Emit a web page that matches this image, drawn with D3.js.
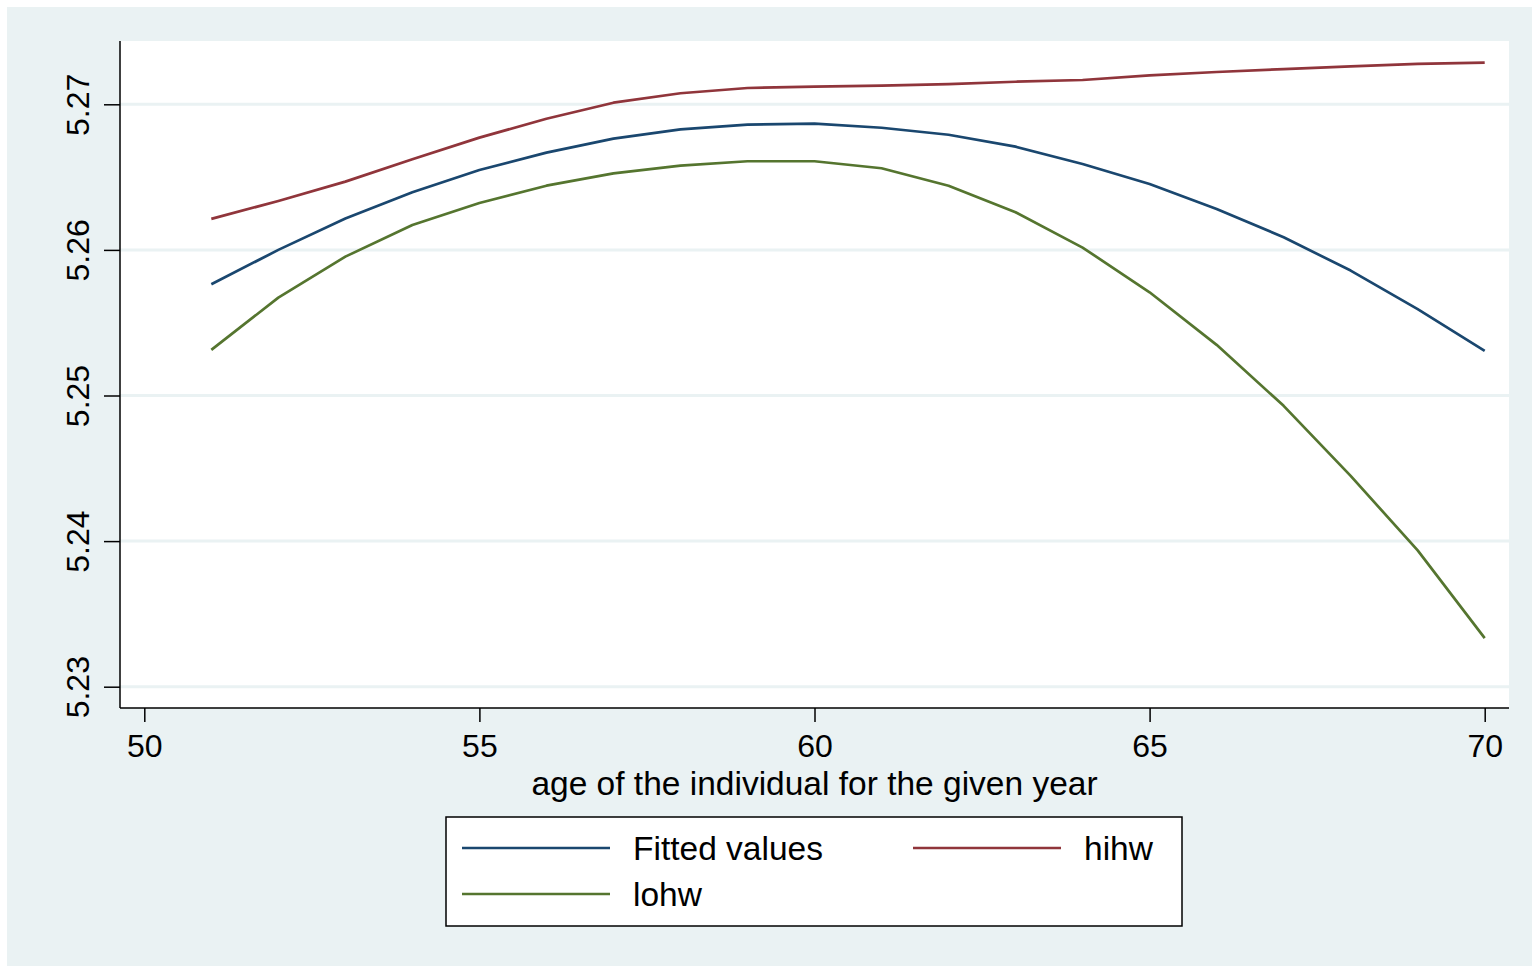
<!DOCTYPE html>
<html>
<head>
<meta charset="utf-8">
<script src="https://cdn.jsdelivr.net/npm/d3@7"></script>
<style>
  body { margin: 0; background: #fff; }
  text { font-family: "Liberation Sans", Arial, sans-serif; fill: #000; }
</style>
</head>
<body>
<svg width="1532" height="966"></svg>
<script>
// age of the individual
const ages = [51, 52, 53, 54, 55, 56, 57, 58, 59, 60, 61, 62, 63, 64, 65, 66, 67, 68, 69, 70];

// series values
const fitted = [5.25764, 5.26000, 5.26215, 5.26396, 5.26549, 5.26668, 5.26764, 5.26828, 5.26860, 5.26867,
                5.26839, 5.26791, 5.26709, 5.26590, 5.26453, 5.26281, 5.26087, 5.25858, 5.25593, 5.25306];
const hihw = [5.26213, 5.26336, 5.26469, 5.26622, 5.26771, 5.26901, 5.27011, 5.27076, 5.27112, 5.27121,
              5.27128, 5.27139, 5.27155, 5.27167, 5.27199, 5.27222, 5.27242, 5.27261, 5.27277, 5.27286];
const lohw = [5.25313, 5.25672, 5.25954, 5.26171, 5.26322, 5.26441, 5.26526, 5.26579, 5.26609, 5.26609,
              5.26561, 5.26441, 5.26259, 5.26016, 5.25709, 5.25348, 5.24929, 5.24448, 5.23936, 5.23334];

const xTicks = [50, 55, 60, 65, 70];
const yTicks = [5.23, 5.24, 5.25, 5.26, 5.27];

const series = [
  {name: "Fitted values", values: fitted, color: "#1a476f"},
  {name: "hihw", values: hihw, color: "#90353b"},
  {name: "lohw", values: lohw, color: "#55752f"}
];

const svg = d3.select("svg");

// outer graph region
svg.append("rect")
   .attr("x", 7).attr("y", 7)
   .attr("width", 1525).attr("height", 959)
   .attr("fill", "#eaf2f3");

// plot region
const plot = {left: 120, top: 41, right: 1509, bottom: 708};
svg.append("rect")
   .attr("x", plot.left).attr("y", plot.top)
   .attr("width", plot.right - plot.left).attr("height", plot.bottom - plot.top)
   .attr("fill", "#fff");

const x = d3.scaleLinear().domain([50, 70]).range([144.3, 1484.7]);
const y = d3.scaleLinear().domain([5.23, 5.27]).range([686.7, 104.3]);

// grid lines
svg.append("g")
   .selectAll("line")
   .data(yTicks)
   .join("line")
   .attr("x1", plot.left).attr("x2", plot.right)
   .attr("y1", d => y(d)).attr("y2", d => y(d))
   .attr("stroke", "#eaf2f3")
   .attr("stroke-width", 3);

// Y axis
const yAxis = svg.append("g")
   .attr("transform", `translate(${plot.left},0)`)
   .call(d3.axisLeft(y).tickValues(yTicks).tickFormat(d3.format(".2f")).tickSize(16).tickPadding(0));
yAxis.select(".domain").remove();
yAxis.selectAll(".tick line").attr("stroke", "#000").attr("stroke-width", 1.5);
yAxis.selectAll(".tick text")
   .attr("x", null).attr("dy", null)
   .attr("transform", "translate(-31,0) rotate(-90)")
   .attr("text-anchor", "middle")
   .style("font-size", "32px");
yAxis.append("line")
   .attr("x1", 0).attr("x2", 0)
   .attr("y1", plot.top).attr("y2", plot.bottom)
   .attr("stroke", "#000").attr("stroke-width", 1.5);

// X axis
const xAxis = svg.append("g")
   .attr("transform", `translate(0,${plot.bottom})`)
   .call(d3.axisBottom(x).tickValues(xTicks).tickSize(14).tickPadding(5));
xAxis.select(".domain").remove();
xAxis.selectAll(".tick line").attr("stroke", "#000").attr("stroke-width", 1.5);
xAxis.selectAll(".tick text")
   .attr("dy", null)
   .attr("y", 49)
   .style("font-size", "32px");
xAxis.append("line")
   .attr("x1", plot.left).attr("x2", plot.right)
   .attr("y1", 0).attr("y2", 0)
   .attr("stroke", "#000").attr("stroke-width", 1.5);

svg.append("text")
   .attr("x", x(60)).attr("y", 795)
   .attr("text-anchor", "middle")
   .style("font-size", "33.5px")
   .text("age of the individual for the given year");

// lines
const line = d3.line()
   .x((d, i) => x(ages[i]))
   .y(d => y(d));

svg.append("g")
   .selectAll("path")
   .data(series)
   .join("path")
   .attr("fill", "none")
   .attr("stroke", d => d.color)
   .attr("stroke-width", 2.7)
   .attr("stroke-linejoin", "round")
   .attr("d", d => line(d.values));

// legend
const legend = svg.append("g");
legend.append("rect")
   .attr("x", 446).attr("y", 817)
   .attr("width", 736).attr("height", 109)
   .attr("fill", "#fff")
   .attr("stroke", "#000")
   .attr("stroke-width", 1.5);

const legendPos = [
  {s: series[0], x: 462, y: 848},
  {s: series[1], x: 913, y: 848},
  {s: series[2], x: 462, y: 894}
];
const items = legend.selectAll("g.item")
   .data(legendPos)
   .join("g")
   .attr("class", "item")
   .attr("transform", d => `translate(${d.x},${d.y})`);
items.append("line")
   .attr("x1", 0).attr("x2", 148)
   .attr("y1", 0).attr("y2", 0)
   .attr("stroke", d => d.s.color)
   .attr("stroke-width", 2.7);
items.append("text")
   .attr("x", 171).attr("y", 12)
   .style("font-size", "33.5px")
   .text(d => d.s.name);
</script>
</body>
</html>
